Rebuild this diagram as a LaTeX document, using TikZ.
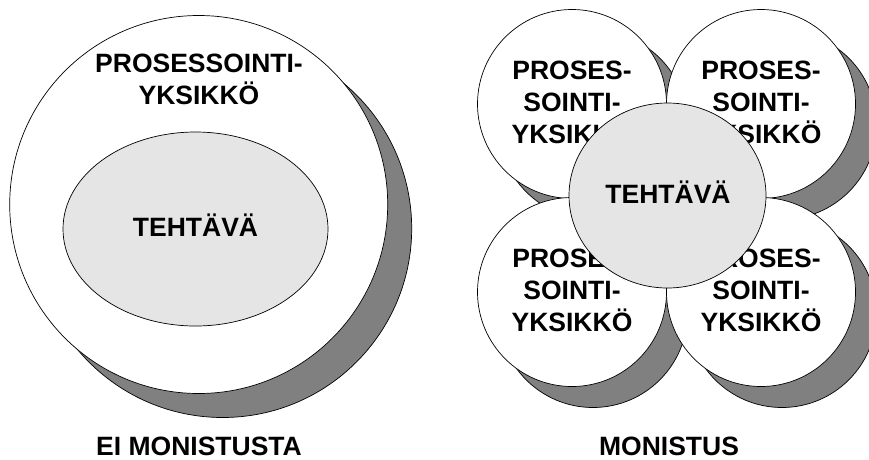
\documentclass[tikz,border=0pt]{standalone}
\usepackage{fontspec}
\setmainfont{Liberation Sans}[BoldFont={Liberation Sans Bold}]
\newfontfamily\boldsans{Liberation Sans Bold}
\usetikzlibrary{shapes.geometric}
\definecolor{shadowgray}{gray}{0.5}
\definecolor{taskgray}{gray}{0.9}
\begin{document}
\begin{tikzpicture}[x=1pt,y=-1pt,
  outline/.style={draw=black, line width=0.7pt, inner sep=0pt},
  unitshadow/.style={outline, circle, fill=shadowgray, minimum size=#1},
  unitdisc/.style={outline, circle, fill=white, minimum size=#1},
  taskshape/.style={outline, ellipse, fill=taskgray},
  txt/.style={font=\boldsans\fontsize{26.5}{32}\selectfont, align=center, inner sep=0pt}
]
\useasboundingbox (0,0) rectangle (869,459);

% --- without replication: one processing unit holding the task
\node[unitshadow=378pt] (bigshadow) at (222.7,228.5) {};
\node[unitdisc=378pt] (bigunit) at (198.7,204.5) {};
\node[taskshape, minimum width=265pt, minimum height=194pt] (bigtask) at (195.5,229) {};
\node[txt] (bigunittext) at (199,79.5) {PROSESSOINTI-\\YKSIKKÖ};
\node[txt, anchor=base] (bigtasktext) at (195.5,236) {TEHTÄVÄ};
\node[txt, anchor=base] (leftcaption) at (199,455) {EI MONISTUSTA};

% --- replication: four processing units sharing one task
\foreach \n/\cx/\cy in {tl/572/104, tr/761/104, bl/572/292, br/761/292}
  \node[unitshadow=189pt] (\n shadow) at (\cx+21,\cy+21) {};
\foreach \n/\cx/\cy in {tl/572/104, tr/761/104, bl/572/292, br/761/292}{
  \node[unitdisc=189pt] (\n unit) at (\cx,\cy) {};
  \node[txt] (\n text) at (\cx,\cy-1.5) {PROSES-\\SOINTI-\\YKSIKKÖ};
}
\node[taskshape, minimum width=197pt, minimum height=185pt] (sharedtask) at (667.5,195.5) {};
\node[txt, anchor=base] (sharedtasktext) at (668,203) {TEHTÄVÄ};
\node[txt, anchor=base] (rightcaption) at (669,455) {MONISTUS};
\end{tikzpicture}
\end{document}
